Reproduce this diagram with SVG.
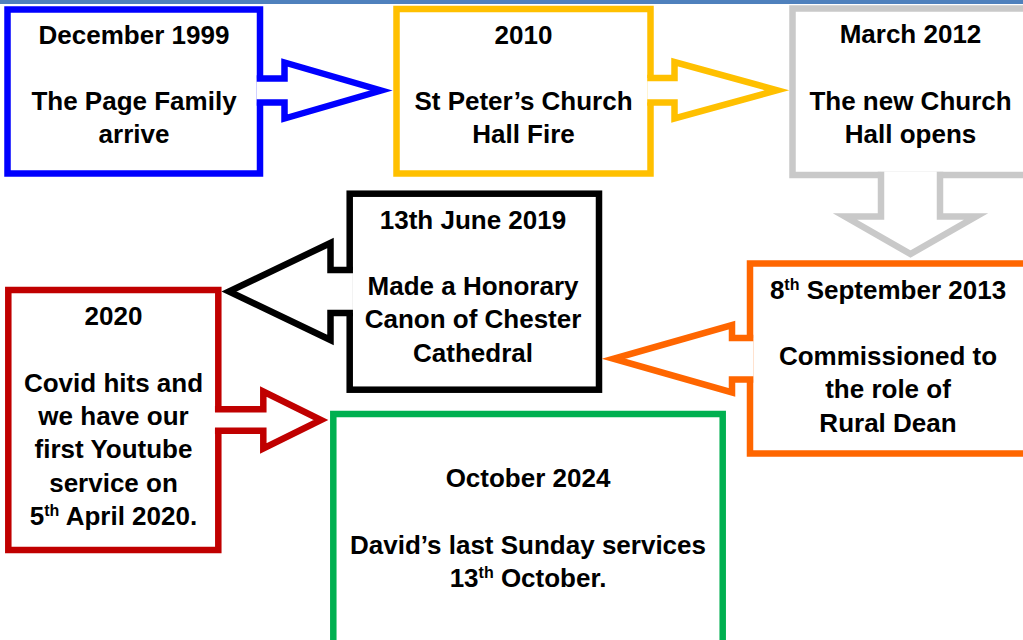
<svg xmlns="http://www.w3.org/2000/svg" width="1023" height="640" viewBox="0 0 1023 640">
<style>
.box{fill:#fff;stroke-width:6.5;stroke-linejoin:miter}
.arr{fill:#fff;stroke-width:6.5;stroke-linejoin:miter;stroke-miterlimit:10}
.t{font-family:"Liberation Sans",Arial,sans-serif;font-weight:bold;font-size:26px;fill:#000;text-anchor:middle}
.sup{font-size:16px}
.blue{stroke:#0000ff}.yellow{stroke:#ffc000}.gray{stroke:#c9c9c9}.black{stroke:#000}
.orange{stroke:#ff6600}.red{stroke:#c00000}.green{stroke:#00b050}
</style>
<rect x="0" y="0" width="1023" height="4" fill="#4f81bd"/>
<g id="n1999">
<rect class="box blue" x="7.5" y="9.5" width="252.5" height="164"/>
<text class="t" x="134" y="44">December 1999</text>
<text class="t" x="134" y="110">The Page Family</text>
<text class="t" x="134" y="143">arrive</text>
</g>
<g id="n2010">
<rect class="box yellow" x="396.5" y="9" width="254" height="164.5"/>
<text class="t" x="523.5" y="44">2010</text>
<text class="t" x="523.5" y="110">St Peter’s Church</text>
<text class="t" x="523.5" y="143">Hall Fire</text>
</g>
<g id="n2012">
<rect class="box gray" x="792.5" y="8.5" width="236" height="166.5"/>
<text class="t" x="910.5" y="43">March 2012</text>
<text class="t" x="910.5" y="109.5">The new Church</text>
<text class="t" x="910.5" y="142.5">Hall opens</text>
</g>
<g id="n2013">
<rect class="box orange" x="750" y="263.5" width="280" height="190"/>
<text class="t" x="888" y="298.5">8<tspan class="sup" dy="-9">th</tspan><tspan dy="9"> September 2013</tspan></text>
<text class="t" x="888" y="365">Commissioned to</text>
<text class="t" x="888" y="398">the role of</text>
<text class="t" x="888" y="431.5">Rural Dean</text>
</g>
<g id="n2019">
<rect class="box black" x="349.7" y="193.7" width="249.3" height="196"/>
<text class="t" x="473" y="228.5">13th June 2019</text>
<text class="t" x="473" y="295">Made a Honorary</text>
<text class="t" x="473" y="328.3">Canon of Chester</text>
<text class="t" x="473" y="361.7">Cathedral</text>
</g>
<g id="n2020">
<rect class="box red" x="8.3" y="290" width="210" height="260"/>
<text class="t" x="113.5" y="325">2020</text>
<text class="t" x="113.5" y="391.7">Covid hits and</text>
<text class="t" x="113.5" y="425">we have our</text>
<text class="t" x="113.5" y="458.3">first Youtube</text>
<text class="t" x="113.5" y="491.7">service on</text>
<text class="t" x="113.5" y="525">5<tspan class="sup" dy="-9">th</tspan><tspan dy="9"> April 2020.</tspan></text>
</g>
<g id="n2024">
<rect class="box green" x="333.3" y="414" width="389.4" height="240"/>
<text class="t" x="528" y="487">October 2024</text>
<text class="t" x="528" y="553.5">David’s last Sunday services</text>
<text class="t" x="528" y="587">13<tspan class="sup" dy="-9">th</tspan><tspan dy="9"> October.</tspan></text>
</g>
<g id="connectors">
<path class="arr blue" d="M256.75 78.5 H284.5 V62.5 L381 90.5 L284.5 118.5 V102.5 H256.75"/>
<path class="arr yellow" d="M647.25 78 H674.5 V62 L777 90.25 L674.5 118.5 V102.5 H647.25"/>
<path class="arr gray" d="M881 171.75 V216.5 H845 L910.5 254 L976 216.5 H940 V171.75"/>
<path class="arr orange" d="M753.25 338 H732 V325 L613.5 358.75 L732 392.5 V379.5 H753.25"/>
<path class="arr black" d="M352.95 270 H330.5 V243 L229 291.5 L330.5 340 V313 H352.95"/>
<path class="arr red" d="M214.95 409.3 H263.3 V391.5 L321 420 L263.3 448.5 V430.8 H214.95"/>
</g>
</svg>
